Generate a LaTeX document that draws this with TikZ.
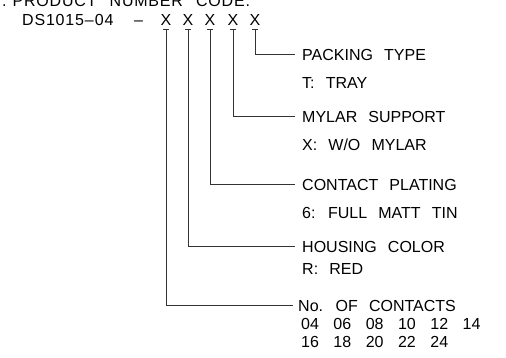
\documentclass[tikz,border=0pt]{standalone}
\usepackage{fontspec}
\setmainfont{Liberation Sans}[WordSpace=2.5]
\newcommand\widenumsp{\spaceskip=14.5pt plus 0pt minus 0pt\relax}
\begin{document}
\begin{tikzpicture}[x=1pt,y=-1pt,
  txt/.style={font=\fontsize{16}{16}\selectfont, inner sep=0pt, text height=11.5pt, text depth=0pt, anchor=base west},
  code/.style={font=\fontsize{16}{16}\selectfont, inner xsep=0pt, inner ysep=3.5pt, text height=11.5pt, text depth=0pt, anchor=base},
  lbl/.style={txt, inner xsep=7pt},
  conn/.style={line width=0.8pt, draw=black!80}]
\useasboundingbox (0,0) rectangle (506,358);
\node[txt] (title) at (2,6.5) {\addfontfeature{LetterSpace=5}.\hspace{6pt}PRODUCT NUMBER CODE.};
\node[txt] (pn) at (22,25.5) {\addfontfeature{LetterSpace=5}DS1015\kern1pt–\kern1pt04};
\node[txt] (dash) at (134,25.5) {–};
\node[code] (x1) at (166,25.5) {X};
\node[code] (x2) at (188,25.5) {X};
\node[code] (x3) at (210,25.5) {X};
\node[code] (x4) at (233,25.5) {X};
\node[code] (x5) at (255,25.5) {X};
\node[lbl] (l5) at (295,60.5) {PACKING TYPE};
\node[txt] (v5) at (302,89) {T: TRAY};
\node[lbl] (l4) at (295,122.5) {MYLAR SUPPORT};
\node[txt] (v4) at (302,151) {X: W/O MYLAR};
\node[lbl] (l3) at (295,190.5) {CONTACT PLATING};
\node[txt] (v3) at (302,218.5) {6: FULL MATT TIN};
\node[lbl] (l2) at (295,252.5) {HOUSING COLOR};
\node[txt] (v2) at (302,274) {R: RED};
\node[lbl, inner xsep=5pt] (l1) at (293,311.5) {No. OF CONTACTS};
\node[txt] (v1a) at (301,329.5) {\widenumsp 04 06 08 10 12 14};
\node[txt] (v1b) at (301,347.5) {\widenumsp 16 18 20 22 24};
\foreach \i in {1,...,5}{
  \draw[conn] ([xshift=-3pt]x\i.south) -- ([xshift=3pt]x\i.south);
  \draw[conn] (x\i.south) |- (l\i.west);
}
\end{tikzpicture}
\end{document}
